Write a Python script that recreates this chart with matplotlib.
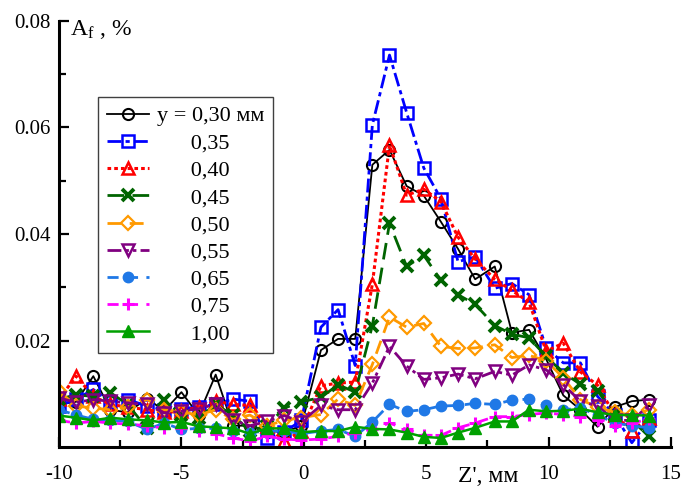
import matplotlib
matplotlib.use('Agg')
import matplotlib.pyplot as plt

plt.rcParams['font.family'] = ['Liberation Serif', 'DejaVu Serif']
plt.rcParams['mathtext.fontset'] = 'custom'
plt.rcParams['mathtext.rm'] = 'Liberation Serif'
plt.rcParams['mathtext.it'] = 'Liberation Serif:italic'
plt.rcParams['axes.unicode_minus'] = False

# z' positions, mm
z = [-10.0, -9.3, -8.6, -7.9, -7.2, -6.4, -5.7, -5.0, -4.3, -3.6, -2.9, -2.2, -1.5, -0.8, -0.1,
     0.7, 1.4, 2.1, 2.8, 3.5, 4.2, 4.9, 5.6, 6.3, 7.0, 7.8, 8.5, 9.2, 9.9, 10.6, 11.3, 12.0, 12.7, 13.4, 14.1]

# A_f, % for each y
a030 = [0.0080, 0.0085, 0.0133, 0.0070, 0.0065, 0.0091, 0.0068, 0.0103, 0.0060, 0.0136, 0.0040, 0.0040, 0.0030, 0.0028, 0.0040,
        0.0182, 0.0203, 0.0203, 0.0530, 0.0558, 0.0490, 0.0472, 0.0423, 0.0372, 0.0315, 0.0339, 0.0215, 0.0220, 0.0165, 0.0097,
        0.0070, 0.0038, 0.0075, 0.0086, 0.0089]
a035 = [0.0077, 0.0090, 0.0108, 0.0085, 0.0089, 0.0077, 0.0070, 0.0072, 0.0075, 0.0080, 0.0090, 0.0086, 0.0016, 0.0028, 0.0050,
        0.0225, 0.0258, 0.0153, 0.0605, 0.0736, 0.0628, 0.0524, 0.0466, 0.0348, 0.0357, 0.0298, 0.0307, 0.0286, 0.0186, 0.0158,
        0.0158, 0.0095, 0.0060, 0.0008, 0.0050]
a040 = [0.0090, 0.0133, 0.0095, 0.0080, 0.0075, 0.0070, 0.0065, 0.0067, 0.0075, 0.0086, 0.0080, 0.0078, 0.0040, 0.0011, 0.0030,
        0.0115, 0.0120, 0.0122, 0.0306, 0.0567, 0.0473, 0.0484, 0.0461, 0.0394, 0.0353, 0.0315, 0.0294, 0.0272, 0.0180, 0.0195,
        0.0141, 0.0116, 0.0060, 0.0030, 0.0055]
a045 = [0.0090, 0.0098, 0.0095, 0.0102, 0.0080, 0.0035, 0.0089, 0.0060, 0.0055, 0.0080, 0.0060, 0.0030, 0.0040, 0.0073, 0.0085,
        0.0093, 0.0117, 0.0103, 0.0228, 0.0420, 0.0339, 0.0360, 0.0313, 0.0286, 0.0268, 0.0228, 0.0212, 0.0205, 0.0170, 0.0139,
        0.0118, 0.0106, 0.0060, 0.0050, 0.0020]
a050 = [0.0105, 0.0077, 0.0073, 0.0070, 0.0075, 0.0089, 0.0070, 0.0066, 0.0060, 0.0070, 0.0052, 0.0060, 0.0040, 0.0050, 0.0055,
        0.0061, 0.0090, 0.0078, 0.0155, 0.0244, 0.0225, 0.0232, 0.0189, 0.0185, 0.0186, 0.0192, 0.0168, 0.0172, 0.0162, 0.0130,
        0.0089, 0.0075, 0.0065, 0.0060, 0.0070]
a055 = [0.0092, 0.0084, 0.0089, 0.0086, 0.0083, 0.0080, 0.0064, 0.0067, 0.0072, 0.0080, 0.0050, 0.0040, 0.0048, 0.0059, 0.0047,
        0.0078, 0.0070, 0.0070, 0.0120, 0.0189, 0.0152, 0.0127, 0.0130, 0.0137, 0.0128, 0.0142, 0.0135, 0.0154, 0.0145, 0.0117,
        0.0086, 0.0077, 0.0050, 0.0050, 0.0078]
a065 = [0.0070, 0.0060, 0.0052, 0.0050, 0.0048, 0.0033, 0.0045, 0.0033, 0.0035, 0.0035, 0.0030, 0.0027, 0.0030, 0.0030, 0.0025,
        0.0030, 0.0033, 0.0020, 0.0047, 0.0080, 0.0067, 0.0070, 0.0077, 0.0078, 0.0082, 0.0080, 0.0088, 0.0090, 0.0078, 0.0070,
        0.0073, 0.0060, 0.0045, 0.0040, 0.0036]
a075 = [0.0050, 0.0045, 0.0048, 0.0045, 0.0043, 0.0040, 0.0035, 0.0036, 0.0030, 0.0025, 0.0017, 0.0011, 0.0020, 0.0015, 0.0013,
        0.0015, 0.0020, 0.0027, 0.0033, 0.0045, 0.0033, 0.0022, 0.0022, 0.0036, 0.0045, 0.0057, 0.0057, 0.0061, 0.0064, 0.0061,
        0.0057, 0.0050, 0.0039, 0.0045, 0.0052]
a100 = [0.0059, 0.0055, 0.0050, 0.0055, 0.0052, 0.0050, 0.0046, 0.0047, 0.0039, 0.0037, 0.0035, 0.0025, 0.0035, 0.0035, 0.0028,
        0.0030, 0.0030, 0.0038, 0.0034, 0.0033, 0.0027, 0.0019, 0.0017, 0.0027, 0.0036, 0.0048, 0.0048, 0.0070, 0.0067, 0.0068,
        0.0072, 0.0065, 0.0060, 0.0060, 0.0059]

labels = ['y = 0,30 мм', '0,35', '0,40', '0,45', '0,50', '0,55', '0,65', '0,75', '1,00']

fig = plt.figure(figsize=(6.84, 4.88), dpi=100)
ax = fig.add_axes([0.0863, 0.084, 0.8947, 0.873])

pad = '      '  # lines the numbers up under "0,30"
ax.plot(z, a030, color='black', lw=1.3, marker='o', ms=8, mfc='none', mew=1.5, label=labels[0])
ax.plot(z, a035, color='blue', lw=2.0, dashes=(5, 1.5, 1.5, 1.5), marker='s', ms=8.5, mfc='none', mew=1.8, label=pad + labels[1])
ax.plot(z, a040, color='red', lw=2.2, dashes=(1.2, 1.0), marker='^', ms=9, mfc='none', mew=1.8, label=pad + labels[2])
ax.plot(z, a045, color='#006400', lw=2.0, dashes=(6, 3), marker='x', ms=8, mew=2.8, label=pad + labels[3])
ax.plot(z, a050, color='#ff9900', lw=2.0, dashes=(5, 3), marker='D', ms=7, mfc='none', mew=1.6, label=pad + labels[4])
ax.plot(z, a055, color='#800080', lw=2.0, dashes=(5, 1.5, 1.2, 1.5, 1.2, 1.5), marker='v', ms=9, mfc='none', mew=1.8, label=pad + labels[5])
ax.plot(z, a065, color='#1f78e6', lw=2.0, dashes=(4, 3), marker='o', ms=7.5, label=pad + labels[6])
ax.plot(z, a075, color='#ff00ff', lw=2.0, dashes=(4, 3), marker='+', ms=9, mew=2.2, label=pad + labels[7])
ax.plot(z, a100, color='#00a000', lw=1.8, marker='^', ms=8, label=pad + labels[8])

ax.set_xlim(-10, 15)
ax.set_ylim(0, 0.08)
ax.set_xticks([-10, -5, 0, 5, 10, 15])
ax.set_xticks([-7.5, -2.5, 2.5, 7.5, 12.5], minor=True)
ax.set_yticks([0.02, 0.04, 0.06, 0.08])
ax.set_yticks([0.01, 0.03, 0.05, 0.07], minor=True)
ax.set_yticklabels(['0.02', '0.04', '0.06', '0.08'], va='center_baseline')

for s in ['top', 'right']:
    ax.spines[s].set_visible(False)
for s in ['left', 'bottom']:
    ax.spines[s].set_linewidth(2.2)
ax.tick_params(which='both', direction='in', width=1.6, labelsize=15)
ax.tick_params(which='major', length=7)
ax.tick_params(which='minor', length=5)
ax.tick_params(axis='x', pad=13)
ax.tick_params(axis='y', pad=6)

ax.text(-9.55, 0.0805, r'A$_{\mathrm{f}}$ , %', fontsize=17, va='top', ha='left')
ax.annotate("Z', мм", xy=(7.55, 0), xycoords=('data', 'axes fraction'),
            xytext=(0, -13.5), textcoords='offset points', ha='center', va='top', fontsize=17)

leg = ax.legend(loc='upper left', bbox_to_anchor=(98 / 684, 1 - 97 / 488), bbox_transform=fig.transFigure,
                borderaxespad=0, fontsize=16, fancybox=False, edgecolor='#404040', framealpha=1,
                handlelength=1.9, handletextpad=0.35, labelspacing=0.3, borderpad=0.4)
leg.get_frame().set_linewidth(1.0)

fig.savefig('out.png', dpi=100)
